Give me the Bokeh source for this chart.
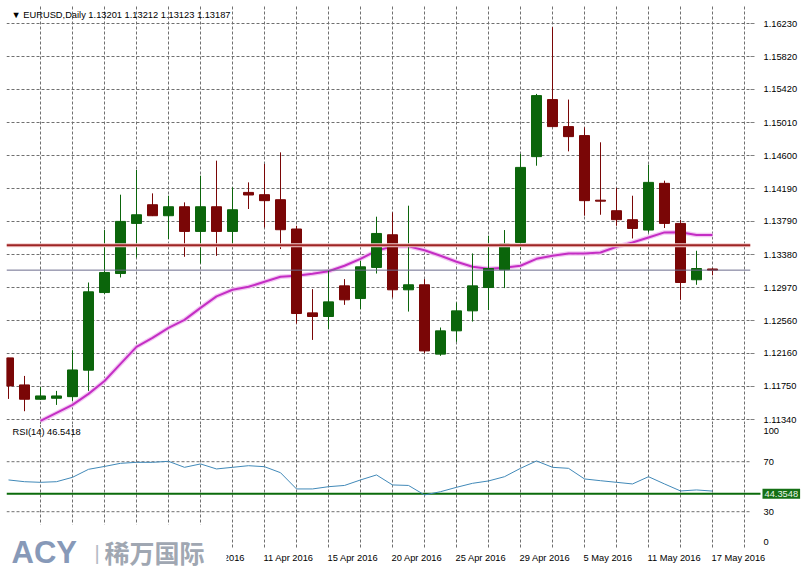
from bokeh.plotting import figure
from bokeh.layouts import column
from bokeh.models import Range1d, FixedTicker, Label, Span, NumeralTickFormatter
from bokeh.core.properties import value
from bokeh.embed import file_html
from bokeh.resources import INLINE

symbol = "EURUSD,Daily"
opens = [1.12103, 1.11769, 1.11592, 1.11604, 1.11624, 1.11951, 1.12910, 1.13145, 1.13764, 1.13995,
         1.13859, 1.13970, 1.13665, 1.13970, 1.13665, 1.14147, 1.14119, 1.14057, 1.13695, 1.12659,
         1.12614, 1.12993, 1.12836, 1.13220, 1.13624, 1.12944, 1.13006, 1.12149, 1.12437, 1.12684,
         1.12972, 1.13191, 1.13529, 1.14589, 1.15294, 1.14960, 1.14849, 1.14051, 1.13921, 1.13810,
         1.13682, 1.14259, 1.13764, 1.13068, 1.13201]
highs = [1.12103, 1.11880, 1.11744, 1.11695, 1.12198, 1.13034, 1.13682, 1.14119, 1.14424, 1.14135,
         1.14106, 1.14024, 1.14354, 1.14539, 1.14209, 1.14271, 1.14498, 1.14642, 1.13735, 1.12952,
         1.13179, 1.13076, 1.13303, 1.13847, 1.13900, 1.13983, 1.13076, 1.12478, 1.12787, 1.13393,
         1.13612, 1.13682, 1.14622, 1.15364, 1.16188, 1.15294, 1.14951, 1.14766, 1.14202, 1.14106,
         1.14490, 1.14292, 1.13806, 1.13426, 1.13212]
lows = [1.11596, 1.11444, 1.11583, 1.11522, 1.11571, 1.11695, 1.12894, 1.13096, 1.13343, 1.13855,
        1.13571, 1.13352, 1.13269, 1.13364, 1.13509, 1.13942, 1.13714, 1.13447, 1.12527, 1.12325,
        1.12458, 1.12758, 1.12705, 1.13145, 1.12849, 1.12675, 1.12161, 1.12128, 1.12301, 1.12552,
        1.12693, 1.12965, 1.13435, 1.14477, 1.14955, 1.14654, 1.13859, 1.13871, 1.13735, 1.13578,
        1.13653, 1.13707, 1.12820, 1.13006, 1.13123]
closes = [1.11757, 1.11592, 1.11633, 1.11633, 1.11954, 1.12919, 1.13158, 1.13789, 1.13871, 1.13859,
          1.13970, 1.13665, 1.13970, 1.13665, 1.13933, 1.14115, 1.14045, 1.13686, 1.12651, 1.12614,
          1.12795, 1.12820, 1.13228, 1.13640, 1.12944, 1.13006, 1.12189, 1.12437, 1.12684, 1.12993,
          1.13207, 1.13509, 1.14456, 1.15343, 1.14960, 1.14836, 1.14045, 1.14039, 1.13810, 1.13702,
          1.14271, 1.13764, 1.13034, 1.13207, 1.13187]
ma_start = 2
ma_values = [1.11324, 1.11423, 1.11522, 1.11658, 1.11818, 1.12029, 1.12239, 1.12350, 1.12474, 1.12573,
             1.12721, 1.12863, 1.12944, 1.12981, 1.13043, 1.13105, 1.13117, 1.13142, 1.13173, 1.13241,
             1.13327, 1.13426, 1.13482, 1.13482, 1.13432, 1.13364, 1.13290, 1.13228, 1.13204, 1.13216,
             1.13241, 1.13327, 1.13364, 1.13393, 1.13393, 1.13405, 1.13476, 1.13529, 1.13591, 1.13653,
             1.13655, 1.13620, 1.13620]
rsi_values = [55.4, 54.0, 53.5, 54.0, 57.5, 63.9, 66.2, 68.7, 69.5, 69.5, 70.3, 65.5, 68.2, 64.2, 65.5,
              66.8, 66.0, 61.2, 48.2, 48.2, 50.0, 51.0, 55.4, 59.4, 51.4, 51.0, 43.4, 46.0, 49.5, 52.7,
              54.6, 58.0, 64.7, 70.6, 65.5, 64.7, 56.2, 54.8, 53.5, 52.2, 58.0, 52.2, 46.6, 47.4, 46.5]
rsi_last = 46.5418
rsi_level = 44.3548
level_line = 1.13495
price_ticks = [1.16230, 1.15820, 1.15420, 1.15010, 1.14600, 1.14190, 1.13790, 1.13380,
               1.12970, 1.12560, 1.12160, 1.11750, 1.11340]
rsi_ticks = [0, 30, 70, 100]
rsi_grid = [30, 70]
date_label_bars = [12, 16, 20, 24, 28, 32, 36, 40, 44]
date_labels = ["6 Apr 2016", "11 Apr 2016", "15 Apr 2016", "20 Apr 2016", "25 Apr 2016",
               "29 Apr 2016", "5 May 2016", "11 May 2016", "17 May 2016"]

FONT = "Liberation Sans"
FS = "9.3px"
GRID = "#707070"
DASH = "3 2"
BULL = "#0b650b"
BEAR = "#7a0606"
N = len(opens)
idx = list(range(N))
grid_x = list(range(2, 47, 2))

# page-pixel helpers (bars are 16 px apart, bar 0 at x = 8 px)
def px(xp):
    return (xp - 8) / 16.0

def rv(yp):  # RSI value at page y (RSI 0 at y=548.7, 1.25 px per unit)
    return (548.7 - yp) / 1.25

X_LEFT = px(6)
X_RIGHT = px(750)

# ---------------- main price panel ----------------
p1 = figure(frame_width=744, frame_height=419, x_range=Range1d(X_LEFT, X_RIGHT),
            y_range=Range1d(1.11280, 1.16456), x_axis_location=None, y_axis_location="right",
            output_backend="svg", toolbar_location=None, min_border_left=6, min_border_top=5,
            min_border_bottom=0, min_border_right=61, outline_line_color=None)
p1.xgrid.ticker = FixedTicker(ticks=grid_x)
p1.ygrid.ticker = FixedTicker(ticks=price_ticks)
for g in (p1.xgrid, p1.ygrid):
    g.grid_line_color = GRID
    g.grid_line_dash = DASH
ax = p1.yaxis[0]
ax.ticker = FixedTicker(ticks=price_ticks)
ax.formatter = NumeralTickFormatter(format="0.00000")
ax.axis_line_color = None
ax.major_tick_out = 4
ax.major_tick_in = 0
ax.major_tick_line_color = "#808080"
ax.minor_tick_line_color = None
ax.major_label_text_font = FONT
ax.major_label_text_font_size = FS
ax.major_label_text_color = "#000000"
ax.major_label_standoff = 9

p1.add_layout(Span(location=level_line, dimension="width", line_color="#f3cccc", line_width=4))
p1.add_layout(Span(location=level_line, dimension="width", line_color="#9e2424", line_width=2))
p1.add_layout(Span(location=closes[-1], dimension="width", line_color="#6c6c8c", line_width=1))

ma_x = list(range(ma_start, ma_start + len(ma_values)))
p1.line(ma_x, ma_values, line_color="#f2c2f2", line_width=4.5, line_alpha=0.9)
p1.line(ma_x, ma_values, line_color="#c42ec4", line_width=2)

colors = [BULL if c >= o else BEAR for o, c in zip(opens, closes)]
tops = [max(o, c) for o, c in zip(opens, closes)]
bots = [min(o, c) for o, c in zip(opens, closes)]
p1.segment(x0=idx, y0=lows, x1=idx, y1=highs, line_color=colors, line_width=1)
p1.vbar(x=idx, top=tops, bottom=bots, width=0.625, fill_color=colors, line_color=colors, line_width=1)

header = "\u25bc " + symbol + "  " + " ".join(f"{v:.5f}" for v in (opens[-1], highs[-1], lows[-1], closes[-1]))
p1.add_layout(Label(x=px(11), y=1.16333, text=header, text_font=FONT, text_font_size=FS,
                    text_color="#000000", text_baseline="middle"))
p1.add_layout(Label(x=px(763), y=level_line, text=f"{level_line:.5f}", text_font=FONT, text_font_size=FS,
                    text_color="#ffffff", text_baseline="middle", background_fill_color="#e0302c", padding=2))
p1.add_layout(Label(x=px(763), y=closes[-1], text=f"{closes[-1]:.5f}", text_font=FONT, text_font_size=FS,
                    text_color="#ffffff", text_baseline="middle", background_fill_color="#000000", padding=2))

# ---------------- RSI panel (frame spans to the page edge, drawn in page pixels) ----------------
p2 = figure(frame_width=805, frame_height=152, x_range=Range1d(px(6), px(811)),
            y_range=Range1d(rv(576), rv(424)), x_axis_location=None, y_axis_location=None,
            output_backend="svg", toolbar_location=None, min_border_left=6, min_border_top=0,
            min_border_bottom=0, min_border_right=0, outline_line_color=None)
p2.xgrid.visible = False
p2.ygrid.visible = False

# grid
p2.segment(x0=grid_x, y0=[rv(547)] * len(grid_x), x1=grid_x, y1=[rv(424)] * len(grid_x),
           line_color=GRID, line_dash=DASH, line_width=1)
p2.segment(x0=[X_LEFT] * len(rsi_grid), y0=rsi_grid, x1=[X_RIGHT] * len(rsi_grid), y1=rsi_grid,
           line_color=GRID, line_dash=DASH, line_width=1)

# level line and RSI
p2.segment(x0=[X_LEFT], y0=[rsi_level], x1=[px(760)], y1=[rsi_level], line_color="#0b6b0b", line_width=2)
p2.line(idx, rsi_values, line_color="#4189b8", line_width=1)

# RSI scale labels (edge labels kept inside the window)
rsi_pos = [rv(541.7) if v == 0 else rv(430.7) if v == 100 else v for v in rsi_ticks]
p2.text(x=[px(763)] * len(rsi_ticks), y=rsi_pos, text=[str(v) for v in rsi_ticks],
        text_font=value(FONT), text_font_size=value(FS), text_color="#000000", text_baseline="middle")

# date labels
p2.text(x=[b - 0.06 for b in date_label_bars], y=[rv(557.5)] * len(date_label_bars), text=date_labels,
        text_font=value(FONT), text_font_size=value(FS), text_color="#000000", text_baseline="middle",
        text_align="left")

p2.add_layout(Label(x=px(12), y=rv(431.7), text=f"RSI(14) {rsi_last:.4f}", text_font=FONT, text_font_size=FS,
                    text_color="#000000", text_baseline="middle"))
p2.add_layout(Label(x=px(762), y=rsi_level, text=f"{rsi_level:.4f}", text_font=FONT, text_font_size=FS,
                    text_color="#e8f4e8", text_baseline="middle", background_fill_color="#157015", padding=2))

# watermark
p2.quad(left=[px(6)], right=[px(226)], bottom=[rv(576)], top=[rv(524)], fill_color="#ffffff", line_color=None)
p2.text(x=[px(11)], y=[rv(552)], text=["ACY"], text_font=value(FONT), text_font_size=value("31px"),
        text_font_style="bold", text_color="#8799b8", text_baseline="middle")
p2.text(x=[px(94)], y=[rv(552)], text=["|"], text_font=value(FONT), text_font_size=value("20px"),
        text_color="#b4bac4", text_baseline="middle")
p2.text(x=[px(104)], y=[rv(551)], text=["稀万国际"], text_font=value("Noto Sans CJK SC"),
        text_font_size=value("25px"), text_font_style="bold", text_color="#a0a7b2", text_baseline="middle")

layout = column(p1, p2, spacing=0)
open("out.html", "w").write(file_html(layout, INLINE))
